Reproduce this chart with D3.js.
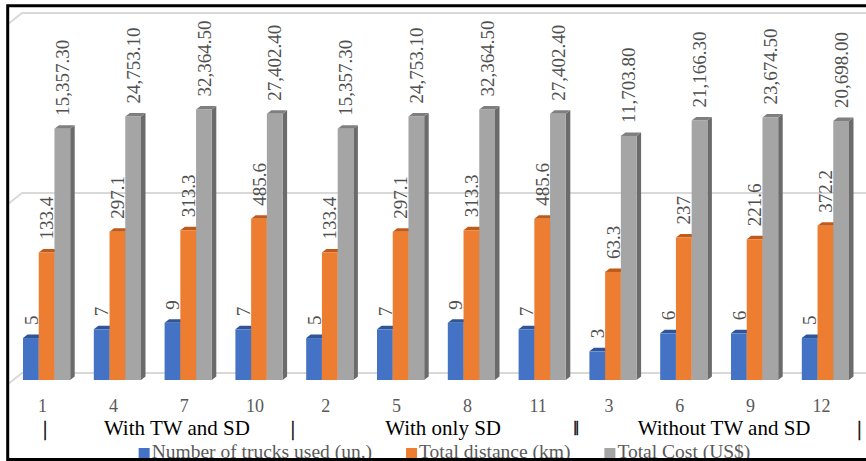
<!DOCTYPE html>
<html>
<head>
<meta charset="utf-8">
<script src="https://cdn.jsdelivr.net/npm/d3@7"></script>
<style>
  html, body { margin: 0; padding: 0; background: #fff; }
  svg { display: block; }
  text { font-family: "Liberation Serif", "Times New Roman", serif; }
</style>
</head>
<body>
<svg id="chart" width="866" height="461"></svg>
<script>
// Routing scenarios (instance numbers) grouped by constraint setting
const categories = ["1", "4", "7", "10", "2", "5", "8", "11", "3", "6", "9", "12"];
const trucks   = [5, 7, 9, 7, 5, 7, 9, 7, 3, 6, 6, 5];
const distance = [133.4, 297.1, 313.3, 485.6, 133.4, 297.1, 313.3, 485.6, 63.3, 237, 221.6, 372.2];
const cost     = [15357.3, 24753.1, 32364.5, 27402.4, 15357.3, 24753.1, 32364.5, 27402.4, 11703.8, 21166.3, 23674.5, 20698.0];
const seriesNames = ["Number of trucks used (un.)", "Total distance (km)", "Total Cost (US$)"];
const groupLabels = ["With TW and SD", "With only SD", "Without TW and SD"];
const separators = ["|", "|", "‖", "|"];
const gridValues = [1, 1e3, 1e6];

const FONT = '"Liberation Serif", "Times New Roman", serif';
const seriesValues = [trucks, distance, cost];
const fmt = [d3.format("d"), d3.format(",~f"), d3.format(",.2f")];
const frontColor = ["#4472C4", "#ED7D31", "#A5A5A5"];
const topColor   = ["#2F5597", "#C05A1A", "#7F7F7F"];
const sideColor  = ["#2E4F8C", "#A8541A", "#6B6B6B"];

const svg = d3.select("#chart");

// Category (cluster) scale and series scale within each cluster
const x = d3.scaleBand().domain(categories).range([11.2, 860.8])
  .paddingInner(1 / 3).paddingOuter(1 / 6);
const xs = d3.scaleBand().domain(d3.range(3)).range([0, x.bandwidth()]);
const y = d3.scaleLog().domain([1, 1e6]).range([380, 20]);

// Depth offsets: back wall and bar depth
const wallDX = 14, wallDY = 11, wallFrontDY = 4;
const barDX = 4.5, barDY = 3.5;
const base = y(1);

// Gridlines on the back wall with the side-wall diagonal
const grid = svg.append("g");
gridValues.forEach(v => {
  const yb = y(v) - (wallDY - wallFrontDY);
  const yf = y(v) + wallFrontDY;
  grid.append("path")
    .attr("d", `M8,${yf}L${8 + wallDX},${yb}L866,${yb}`)
    .attr("fill", "none").attr("stroke", "#D9D9D9").attr("stroke-width", 2);
});

// 3D columns
const bars = svg.append("g");
categories.forEach((c, i) => {
  seriesValues.forEach((vals, s) => {
    const x0 = x(c) + xs(s), w = xs.bandwidth(), yt = y(vals[i]);
    const g = bars.append("g");
    g.append("path")
      .attr("d", `M${x0 + w},${yt}L${x0 + w + barDX},${yt - barDY}L${x0 + w + barDX},${base - barDY}L${x0 + w},${base}Z`)
      .attr("fill", sideColor[s]);
    g.append("path")
      .attr("d", `M${x0},${yt}L${x0 + w},${yt}L${x0 + w + barDX},${yt - barDY}L${x0 + barDX},${yt - barDY}Z`)
      .attr("fill", topColor[s]);
    g.append("rect")
      .attr("x", x0).attr("y", yt).attr("width", w).attr("height", base - yt)
      .attr("fill", frontColor[s]);
  });
});

// Value labels, rotated above each column
const labels = svg.append("g");
categories.forEach((c, i) => {
  seriesValues.forEach((vals, s) => {
    const cx = x(c) + xs(s) + xs.bandwidth() / 2;
    labels.append("text")
      .attr("transform", `translate(${cx},${y(vals[i]) - 13}) rotate(-90)`)
      .attr("dy", "0.35em")
      .attr("font-family", FONT)
      .attr("font-size", 19)
      .attr("fill", "#505050")
      .text(fmt[s](vals[i]));
  });
});

// Category axis labels
const axis = svg.append("g");
categories.forEach(c => {
  axis.append("text")
    .attr("x", x(c) + x.bandwidth() / 2 - 4).attr("y", 411.5)
    .attr("text-anchor", "middle").attr("font-family", FONT)
    .attr("font-size", 18).attr("fill", "#595959")
    .text(c);
});

// Scenario group row with separators
const step = x.step(), x0r = x.range()[0];
const sepUnits = [0.5, 4, 8, 12];
const groupUnits = [2.34, 6.1, 10.07];
separators.forEach((s, k) => {
  axis.append("text")
    .attr("transform", `translate(${x0r + step * sepUnits[k] - 1.5},435) rotate(0.01)`)
    .attr("text-anchor", "middle").attr("font-family", FONT)
    .attr("font-size", 21).attr("fill", "#000")
    .attr("stroke", "#000").attr("stroke-width", 0.4)
    .text(s);
});
groupLabels.forEach((t, k) => {
  axis.append("text")
    .attr("x", x0r + step * groupUnits[k]).attr("y", 435)
    .attr("text-anchor", "middle").attr("font-family", FONT)
    .attr("font-size", 21).attr("fill", "#000")
    .text(t);
});

// Legend
const legend = svg.append("g");
const items = seriesNames.map((n, s) => {
  const g = legend.append("g");
  g.append("rect").attr("x", 0).attr("y", -10).attr("width", 11).attr("height", 11).attr("fill", frontColor[s]);
  const t = g.append("text").attr("x", 13).attr("y", 0)
    .attr("font-family", FONT).attr("font-size", 19.5).attr("fill", "#595959").text(n);
  return { g, w: 13 + t.node().getComputedTextLength() };
});
const gap = 34;
const total = d3.sum(items, d => d.w) + gap * (items.length - 1);
let lx = 444.5 - total / 2;
items.forEach(it => { it.g.attr("transform", `translate(${lx},458)`); lx += it.w + gap; });

// Chart frame
svg.append("path")
  .attr("d", "M870,5.8L7.7,5.8L7.7,459.5L870,459.5")
  .attr("fill", "none").attr("stroke", "#000").attr("stroke-width", 3);
</script>
</body>
</html>
